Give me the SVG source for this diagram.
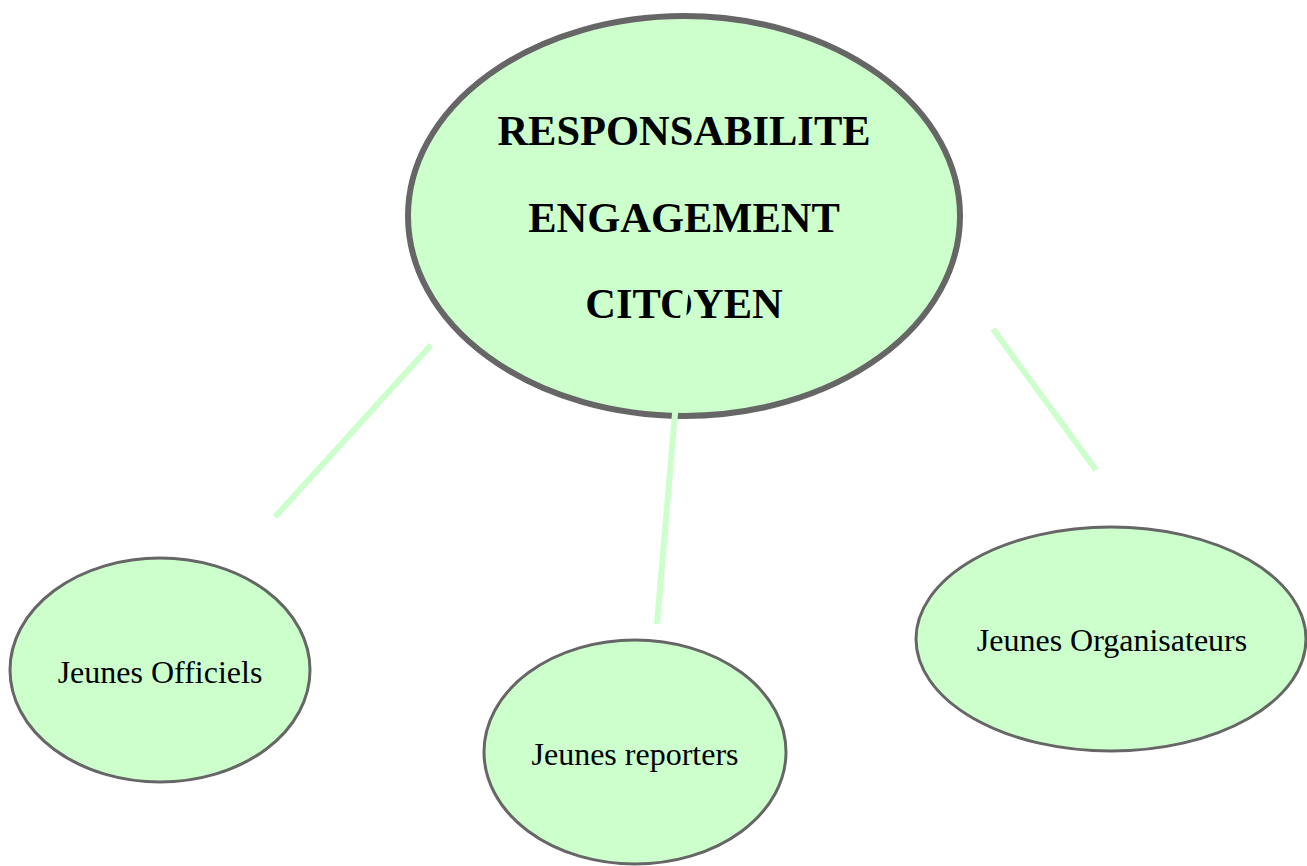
<svg xmlns="http://www.w3.org/2000/svg" width="1307" height="866" viewBox="0 0 1307 866">
<style>
.node{fill:#ccffcc;stroke:#666666}
.big{font-family:"Liberation Serif",serif;font-weight:bold;font-size:42.5px;fill:#000;text-anchor:middle}
.small{font-family:"Liberation Serif",serif;font-size:32px;fill:#000;text-anchor:middle}
.conn{stroke:#ccffcc;stroke-width:6;fill:none}
</style>
<rect width="1307" height="866" fill="#ffffff"/>
<g id="center">
<ellipse class="node" cx="684" cy="216" rx="276" ry="200" stroke-width="6"/>
<text class="big" x="684" y="145">RESPONSABILITE</text>
<text class="big" x="684" y="232">ENGAGEMENT</text>
<text class="big" x="684" y="318">CITOYEN</text>
</g>
<g id="officiels">
<ellipse class="node" cx="160" cy="670" rx="150" ry="112" stroke-width="3"/>
<text class="small" x="160" y="683">Jeunes Officiels</text>
</g>
<g id="reporters">
<ellipse class="node" cx="635" cy="752" rx="151" ry="112" stroke-width="3"/>
<text class="small" x="635" y="765">Jeunes reporters</text>
</g>
<g id="organisateurs">
<ellipse class="node" cx="1111" cy="639" rx="195" ry="112" stroke-width="3"/>
<text class="small" x="1112" y="651">Jeunes Organisateurs</text>
</g>
<g id="connectors">
<line class="conn" x1="431" y1="345" x2="275" y2="517"/>
<line class="conn" x1="686" y1="285" x2="657" y2="624"/>
<line class="conn" x1="993" y1="329" x2="1096" y2="470"/>
</g>
</svg>
